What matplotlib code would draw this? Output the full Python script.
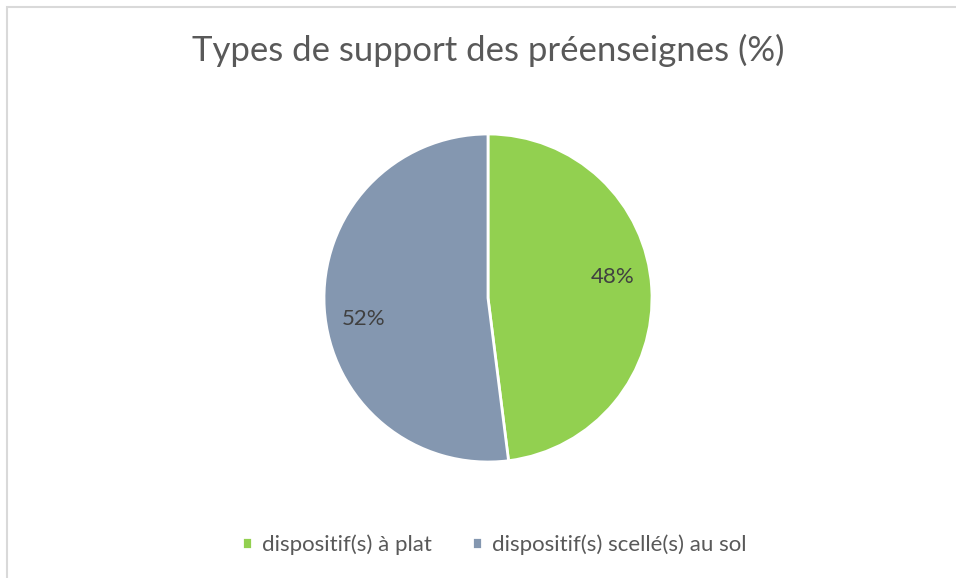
import numpy as np
import matplotlib.pyplot as plt
from matplotlib.patches import Rectangle

labels = ["dispositif(s) à plat", "dispositif(s) scellé(s) au sol"]
values = [48, 52]
colors = ["#92D050", "#8497B0"]

plt.rcParams['font.family'] = ['Lato', 'DejaVu Sans']
text_color = "#595959"

fig = plt.figure(figsize=(9.56, 5.78), dpi=100)

# chart frame (light grey border, runs off the right and bottom edges)
W, H = 956, 578
fig.patches.append(Rectangle((7 / W, -0.5), 2.0, 1.5 - 7 / H, transform=fig.transFigure,
                             fill=False, edgecolor="#D9D9D9", linewidth=1.5))

r = 164
cx, cy = 488, 298
ax = fig.add_axes([(cx - r) / W, 1 - (cy + r) / H, 2 * r / W, 2 * r / H])

wedges, texts, autotexts = ax.pie(
    values, colors=colors, startangle=90, counterclock=False,
    autopct=lambda p: f"{p:.0f}%", pctdistance=0.77,
    wedgeprops=dict(edgecolor="white", linewidth=2),
    textprops=dict(color="#404040", fontsize=16),
)
# nudge the percentage labels a little counter-clockwise
rot = np.deg2rad(6)
for t in autotexts:
    x, y = t.get_position()
    t.set_position((x * np.cos(rot) - y * np.sin(rot), x * np.sin(rot) + y * np.cos(rot)))
ax.set_xlim(-1, 1)
ax.set_ylim(-1, 1)
ax.set_aspect("equal")
ax.axis("off")

fig.text(488 / W, 1 - 50 / H, "Types de support des préenseignes (%)",
         ha="center", va="center", fontsize=25, color=text_color)

fig.legend(wedges, labels, loc="center", bbox_to_anchor=(494 / W, 1 - 545 / H),
           ncol=2, frameon=False, fontsize=16, labelcolor=text_color,
           handlelength=0.45, handleheight=0.45, handletextpad=0.45, columnspacing=1.8)

fig.savefig("out.png", dpi=100)
